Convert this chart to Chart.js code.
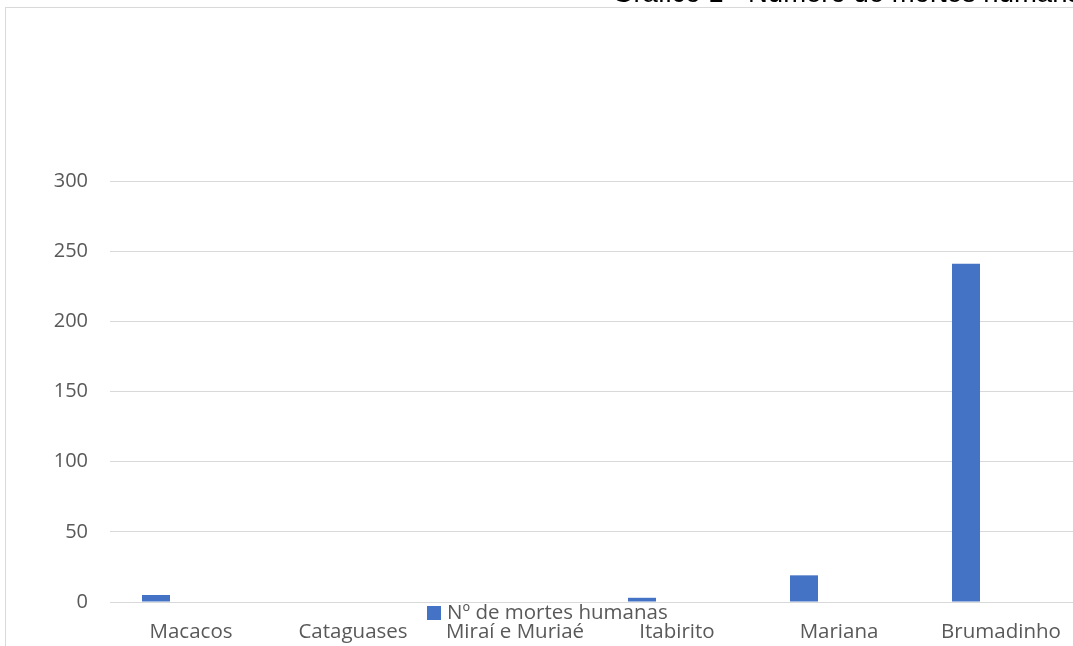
<!DOCTYPE html>
<html>
<head>
<meta charset="utf-8">
<script src="https://cdn.jsdelivr.net/npm/chart.js@4/dist/chart.umd.min.js"></script>
<style>
  html, body { margin: 0; padding: 0; background: #fff; overflow: hidden; }
  #wrap { position: relative; width: 1082px; height: 646px; }
  #frame { position: absolute; left: 5px; top: 7px; right: 0; bottom: -2px;
           border-top: 1px solid #d9d9d9; border-left: 1px solid #d9d9d9; }
  #title { position: absolute; left: 612px; top: -21px; white-space: nowrap;
           font: 27.5px/27.5px "Liberation Sans", Arial, sans-serif; color: #000; }
  #legend { position: absolute; left: 427px; top: 599px; white-space: nowrap;
            font: 20.5px/24px "Open Sans", sans-serif; color: #595959; }
  #legend span.box { display: inline-block; width: 14px; height: 14px;
                     vertical-align: -1px; margin-right: 6px; }
</style>
</head>
<body>
<div id="wrap">
  <div id="frame"></div>
  <canvas id="chart"></canvas>
  <div id="title">Gráfico 1 - Número de mortes humanas</div>
  <div id="legend"></div>
</div>
<script>
// Chart data
const categories = ['Macacos', 'Cataguases', 'Miraí e Muriaé', 'Itabirito', 'Mariana', 'Brumadinho'];
const deaths = [5, 0, 0, 3, 19, 241];
const seriesLabel = 'Nº de mortes humanas';
const yMin = 0, yMax = 300, yStep = 50;

const barColor = '#4472c4';
const textColor = '#595959';
const gridColor = '#d9d9d9';

// second, empty series keeps the bars shifted left like the original
const datasets = [
  { label: seriesLabel, data: deaths, backgroundColor: barColor, borderWidth: 0 },
  { label: '', data: categories.map(() => null), backgroundColor: 'transparent' }
];

new Chart(document.getElementById('chart'), {
  type: 'bar',
  data: { labels: categories, datasets },
  options: {
    responsive: true,
    maintainAspectRatio: false,
    animation: false,
    layout: { padding: { top: 181, left: 0, right: 0, bottom: 0 } },
    datasets: { bar: { categoryPercentage: 0.864, barPercentage: 0.4 } },
    plugins: { legend: { display: false }, tooltip: { enabled: false } },
    scales: {
      x: {
        grid: { display: false, drawTicks: false },
        border: { display: false },
        ticks: { color: textColor, padding: 18, maxRotation: 0, autoSkip: false,
                 font: { family: 'Open Sans', size: 20.5 } },
        afterFit: s => { s.height = 44; }
      },
      y: {
        min: yMin, max: yMax,
        grid: { color: gridColor, lineWidth: 1, drawTicks: false },
        border: { display: false },
        ticks: { stepSize: yStep, color: textColor, padding: 22,
                 font: { family: 'Open Sans', size: 20 } },
        afterFit: s => { s.width = 110; }
      }
    }
  }
});

// legend drawn as text under the axis, like the reference
const legend = document.getElementById('legend');
legend.innerHTML = '<span class="box" style="background:' + barColor + '"></span>' + seriesLabel;
</script>
</body>
</html>
